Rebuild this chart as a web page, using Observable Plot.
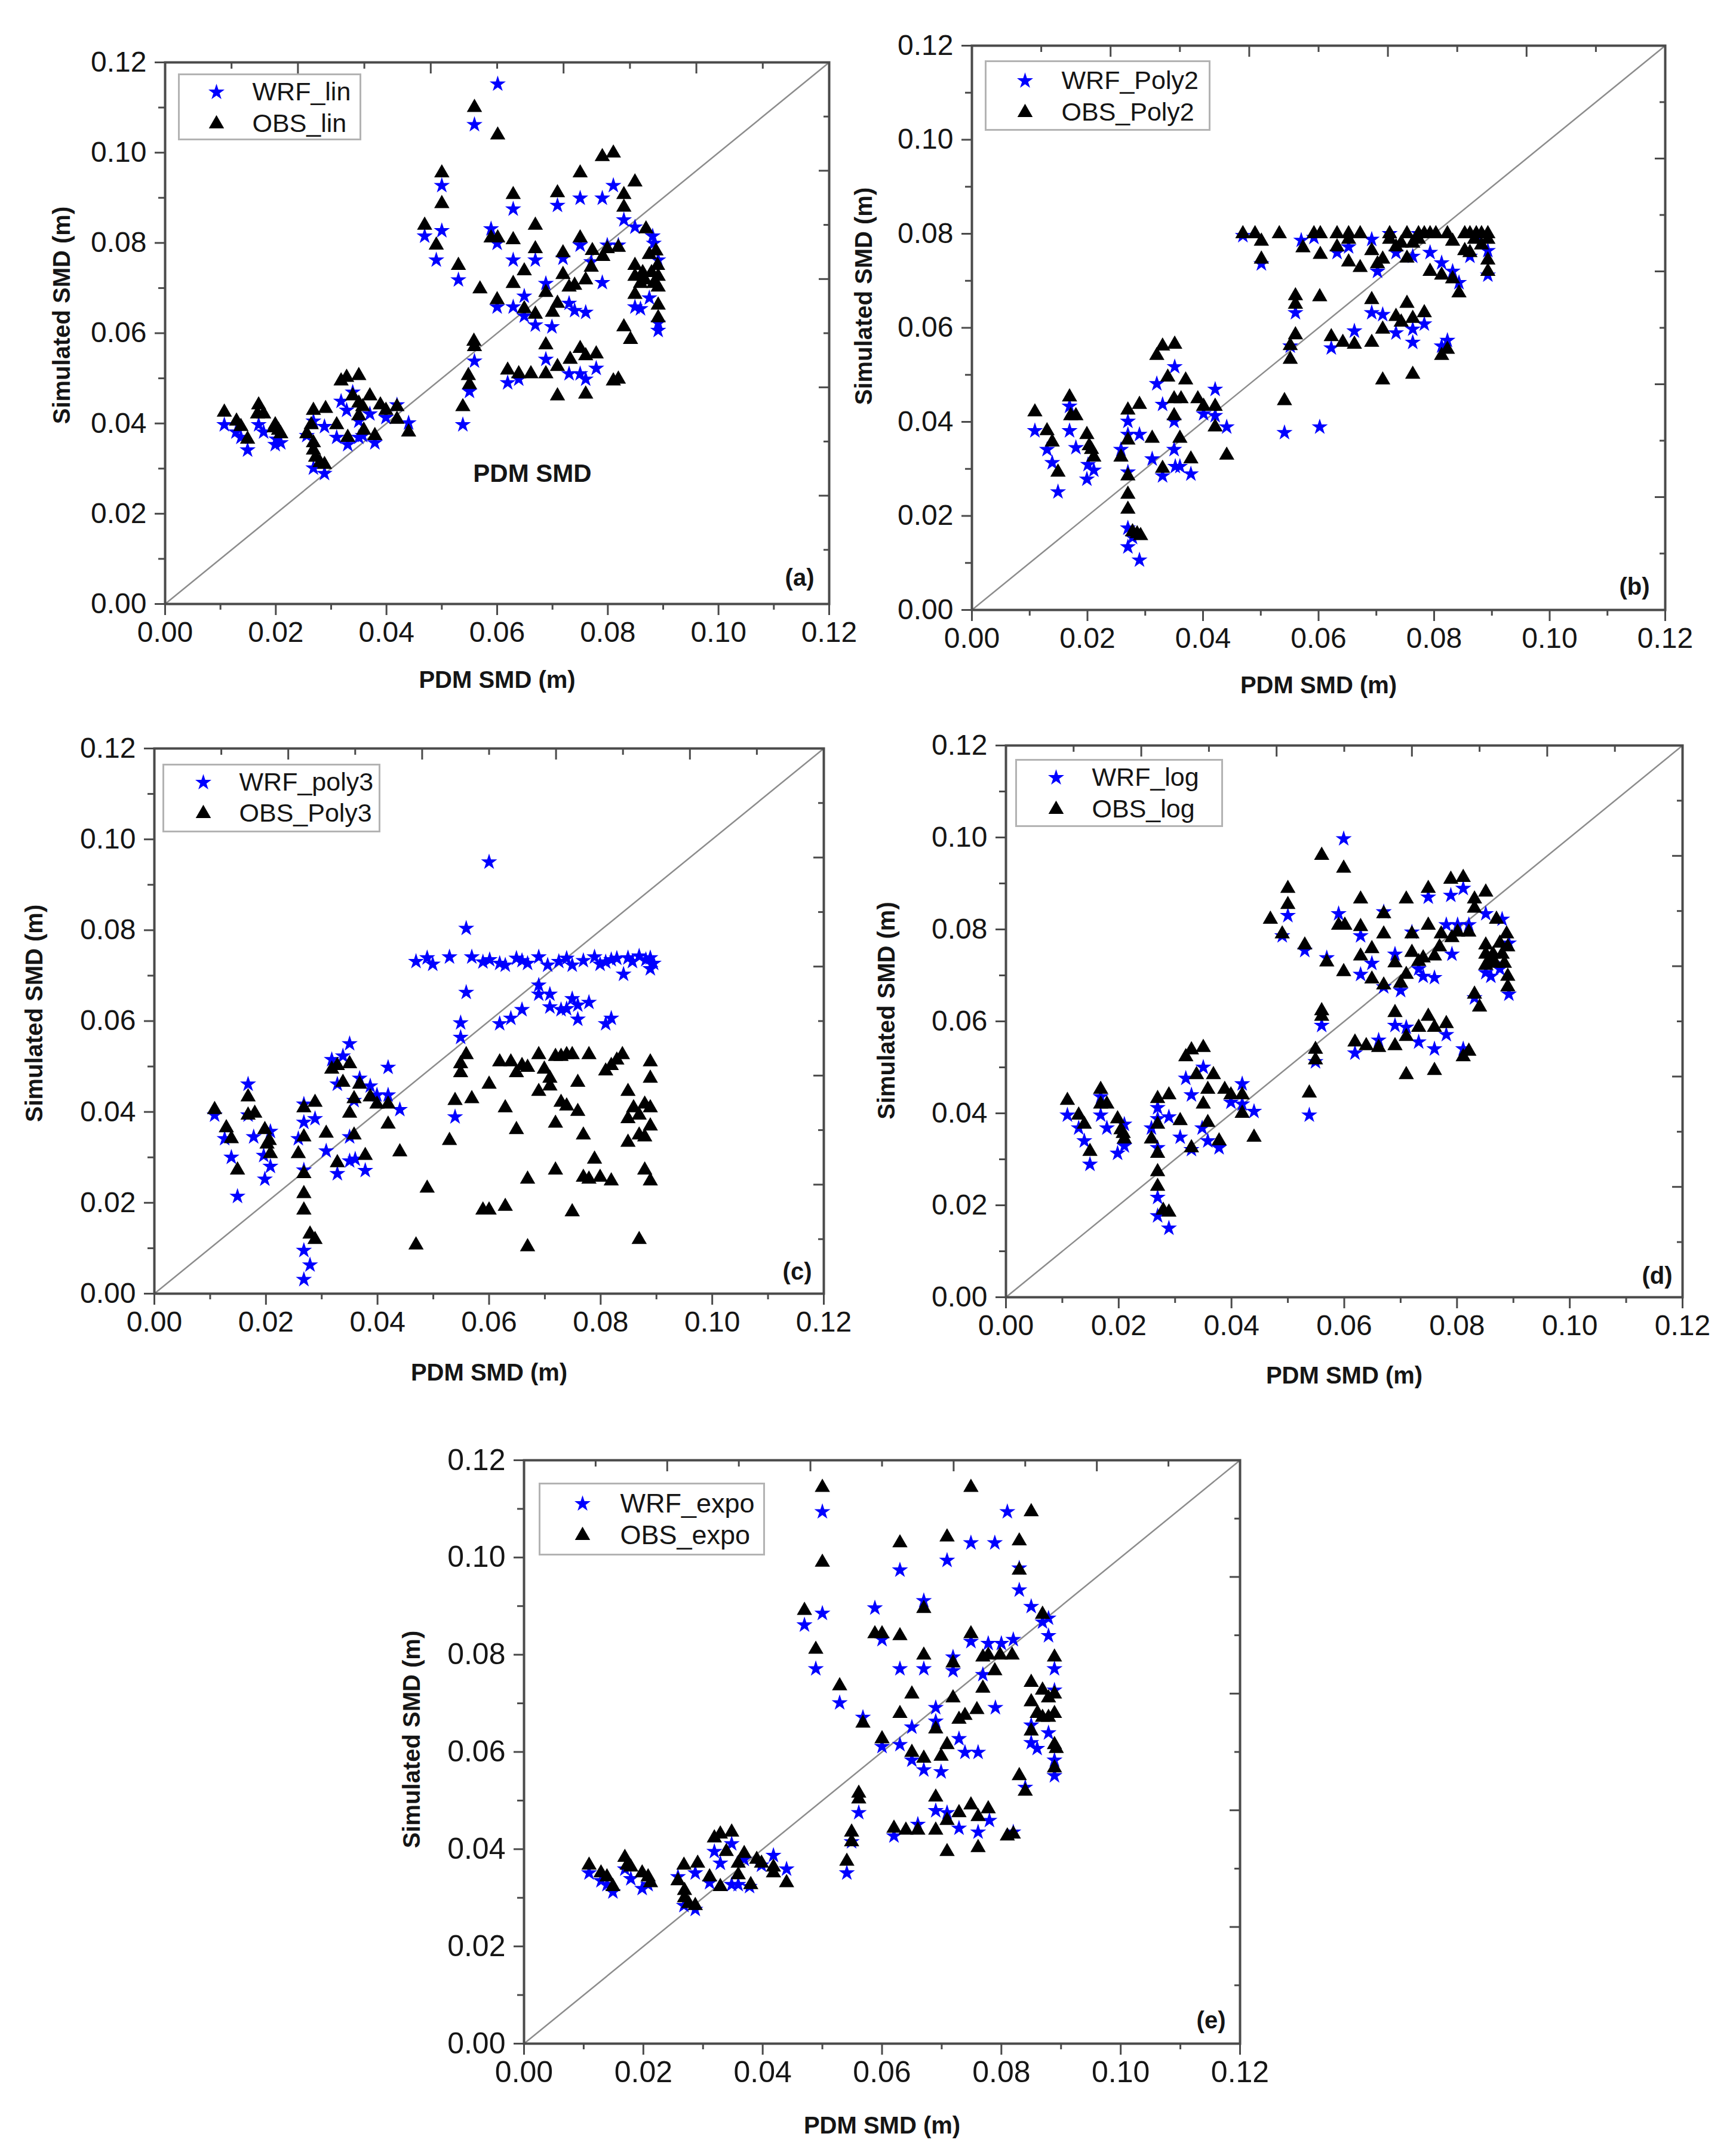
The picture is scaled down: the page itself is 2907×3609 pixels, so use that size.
<!DOCTYPE html>
<html><head><meta charset="utf-8">
<script src="https://cdn.jsdelivr.net/npm/d3@7"></script>
<script src="https://cdn.jsdelivr.net/npm/@observablehq/plot@0.6"></script>
<style>
html,body{margin:0;padding:0;background:#fff;}
#page{position:relative;width:2907px;height:3609px;background:#fff;overflow:hidden;font-family:"Liberation Sans",Arial,sans-serif;}
#page svg{position:absolute;overflow:visible;max-width:none;background:transparent;}
</style></head><body><div id="page"></div>
<script>
// ---------- DATA (x = PDM SMD, y = Simulated SMD, metres) ----------
const wrfLin = [[0.0107,0.0397],[0.0128,0.0381],[0.0137,0.0369],[0.0149,0.0341],[0.0169,0.0397],[0.0178,0.0381],[0.0199,0.0353],[0.0209,0.0357],[0.0201,0.0365],[0.0256,0.0373],[0.0268,0.0405],[0.0268,0.0301],[0.0288,0.0289],[0.0288,0.0393],[0.0318,0.0449],[0.0328,0.0429],[0.0339,0.0469],[0.035,0.0369],[0.0357,0.0373],[0.0379,0.0357],[0.031,0.0369],[0.033,0.0353],[0.0399,0.0413],[0.0419,0.0441],[0.044,0.0401],[0.037,0.0421],[0.035,0.0405],
[0.0538,0.0397],[0.055,0.0471],[0.0559,0.0538],[0.0469,0.0815],[0.049,0.0762],[0.05,0.0927],[0.05,0.0827],[0.053,0.0718],[0.0559,0.1062],[0.0601,0.1152],[0.0589,0.0831],[0.06,0.0799],[0.06,0.0658],[0.0619,0.049],[0.0629,0.0875],[0.0629,0.0762],[0.0629,0.0658],[0.0639,0.0498],[0.0649,0.0682],[0.0649,0.0638],[0.0669,0.0762],[0.0669,0.0618],[0.0688,0.071],[0.0688,0.0542],[0.0699,0.0614],[0.0709,0.0883],[0.0719,0.0766],[0.073,0.0666],[0.073,0.051],[0.074,0.065],[0.075,0.0899],[0.075,0.0795],[0.075,0.051],[0.076,0.0646],[0.076,0.0498],[0.077,0.0758],[0.0779,0.0522],[0.079,0.0899],[0.079,0.0712],[0.0799,0.0795],[0.081,0.0927],[0.0819,0.0795],[0.0829,0.0851],[0.0849,0.0835],[0.0849,0.0658],[0.0859,0.0654],[0.0875,0.0678],[0.0881,0.0815],[0.0891,0.0762],[0.0891,0.0606],[0.0891,0.0622],[0.0883,0.0799]];
const obsLin = [[0.0107,0.0425],[0.0129,0.0405],[0.0137,0.0393],[0.0149,0.0365],[0.0169,0.0441],[0.0167,0.0421],[0.0178,0.0421],[0.0199,0.0397],[0.0205,0.0385],[0.0209,0.0377],[0.0197,0.039],[0.0256,0.0377],[0.0268,0.0429],[0.0264,0.0397],[0.0268,0.0357],[0.0268,0.0341],[0.0272,0.0325],[0.028,0.0313],[0.0288,0.0309],[0.029,0.0433],[0.031,0.0397],[0.0318,0.0494],[0.0328,0.0502],[0.035,0.0506],[0.0339,0.0461],[0.035,0.0445],[0.0357,0.0437],[0.035,0.0417],[0.0359,0.0385],[0.033,0.0369],[0.037,0.0461],[0.0379,0.0373],[0.0389,0.0441],[0.0399,0.0429],[0.0419,0.0437],[0.0419,0.0409],[0.044,0.0381],
[0.0538,0.0437],[0.0548,0.0506],[0.055,0.0486],[0.0558,0.0582],[0.0559,0.057],[0.0469,0.0839],[0.049,0.0795],[0.05,0.0955],[0.05,0.0887],[0.053,0.075],[0.0559,0.11],[0.0601,0.1039],[0.0569,0.0698],[0.0589,0.0811],[0.0601,0.0811],[0.06,0.0674],[0.0619,0.0518],[0.0629,0.0907],[0.0629,0.0807],[0.0629,0.071],[0.0639,0.051],[0.0649,0.0738],[0.0649,0.0654],[0.0661,0.051],[0.0669,0.0839],[0.0669,0.0787],[0.0669,0.0642],[0.0688,0.069],[0.0688,0.0574],[0.0688,0.051],[0.07,0.0646],[0.0709,0.0911],[0.0709,0.0666],[0.0709,0.0526],[0.0709,0.0461],[0.0719,0.0778],[0.0719,0.073],[0.073,0.0702],[0.0732,0.0542],[0.074,0.0706],[0.075,0.0955],[0.075,0.0811],[0.075,0.0566],[0.076,0.0718],[0.076,0.055],[0.076,0.0465],[0.077,0.0746],[0.0772,0.0783],[0.0779,0.0554],[0.079,0.0991],[0.0791,0.077],[0.0799,0.0787],[0.081,0.0999],[0.081,0.0494],[0.0819,0.079],[0.0819,0.0498],[0.0829,0.0907],[0.0829,0.0879],[0.0829,0.0614],[0.0841,0.0586],[0.0849,0.0935],[0.0849,0.075],[0.0849,0.0726],[0.0849,0.0686],[0.0859,0.071],[0.0869,0.0831],[0.0875,0.0774],[0.0879,0.0734],[0.0883,0.071],[0.0887,0.0782],[0.089,0.075],[0.0891,0.0702],[0.0891,0.0662],[0.0891,0.0634],[0.0891,0.0726],[0.0863,0.0734],[0.0867,0.0718]];

const wrfPoly2 = [[0.0109,0.0381],[0.013,0.0341],[0.0139,0.0313],[0.0149,0.0251],[0.0169,0.0433],[0.0169,0.0381],[0.018,0.0345],[0.0199,0.0278],[0.0211,0.0297],[0.0201,0.0309],[0.0258,0.0341],[0.027,0.0401],[0.027,0.0373],[0.027,0.0293],[0.027,0.0174],[0.027,0.0134],[0.0278,0.0154],[0.029,0.0106],[0.029,0.0373],[0.0312,0.0321],[0.032,0.0481],[0.033,0.0437],[0.0351,0.0517],[0.035,0.0401],[0.035,0.0341],[0.036,0.0305],[0.0352,0.0305],[0.033,0.0285],[0.0379,0.0289],[0.0401,0.0417],[0.0421,0.0469],[0.0421,0.0413],[0.0441,0.0389],
[0.0541,0.0377],[0.0602,0.0389],[0.0551,0.0561],[0.056,0.0632],[0.0501,0.0736],[0.0469,0.0796],[0.057,0.0786],[0.0592,0.0792],[0.0632,0.076],[0.0652,0.0772],[0.0692,0.0788],[0.0702,0.072],[0.0734,0.076],[0.0763,0.0752],[0.0793,0.076],[0.0813,0.0738],[0.0832,0.072],[0.0843,0.0696],[0.0862,0.0752],[0.0893,0.0712],[0.0893,0.0764],[0.0622,0.0557],[0.0662,0.0593],[0.0692,0.0632],[0.0711,0.0628],[0.0734,0.0589],[0.0763,0.0597],[0.0763,0.0569],[0.0783,0.0608],[0.0813,0.0561],[0.0823,0.0573],[0.0723,0.08],[0.0773,0.08],[0.0873,0.08]];
const obsPoly2 = [[0.0469,0.08],[0.049,0.08],[0.0532,0.08],[0.0592,0.08],[0.0603,0.08],[0.0632,0.08],[0.0652,0.08],[0.0672,0.08],[0.0723,0.08],[0.0753,0.08],[0.0773,0.08],[0.0783,0.08],[0.0793,0.08],[0.0803,0.08],[0.0823,0.08],[0.0853,0.08],[0.0862,0.08],[0.0873,0.08],[0.0882,0.08],[0.0893,0.08],
[0.0501,0.0784],[0.0501,0.0746],[0.0573,0.077],[0.0603,0.0756],[0.0632,0.0772],[0.0652,0.0788],[0.0652,0.074],[0.0672,0.0728],[0.0692,0.0764],[0.0702,0.0736],[0.0711,0.0746],[0.0723,0.0788],[0.0734,0.0772],[0.0743,0.078],[0.0753,0.0748],[0.0763,0.078],[0.0773,0.0788],[0.0793,0.072],[0.0813,0.0712],[0.0832,0.0784],[0.0832,0.0704],[0.0843,0.0674],[0.0853,0.0764],[0.0862,0.076],[0.0882,0.0776],[0.0893,0.0744],[0.0893,0.072],[0.0893,0.0788],[0.087,0.0788],
[0.056,0.0668],[0.056,0.065],[0.0602,0.0666],[0.056,0.0585],[0.0551,0.0562],[0.0551,0.0533],[0.0541,0.0445],[0.0622,0.0581],[0.0642,0.0569],[0.0662,0.0565],[0.0692,0.066],[0.0692,0.0569],[0.0711,0.0597],[0.0734,0.0624],[0.0743,0.0612],[0.0753,0.0652],[0.0763,0.062],[0.0783,0.0632],[0.0711,0.0489],[0.0763,0.0501],[0.0813,0.0541],[0.0823,0.0554],
[0.0109,0.0421],[0.013,0.0381],[0.0139,0.0357],[0.0149,0.0293],[0.0169,0.0453],[0.0171,0.0413],[0.018,0.0413],[0.0199,0.0373],[0.0203,0.0349],[0.0211,0.0325],[0.0207,0.0341],[0.0258,0.0325],[0.027,0.0425],[0.027,0.0361],[0.027,0.0285],[0.027,0.0246],[0.027,0.0214],[0.0278,0.0166],[0.0286,0.0162],[0.0292,0.0158],[0.029,0.0437],[0.0312,0.0365],[0.032,0.0541],[0.033,0.0561],[0.0351,0.0565],[0.0339,0.0495],[0.035,0.0449],[0.0362,0.0449],[0.035,0.0413],[0.036,0.0365],[0.033,0.0301],[0.037,0.0489],[0.0379,0.0321],[0.0391,0.0449],[0.0401,0.0433],[0.0421,0.0433],[0.0421,0.0389],[0.0441,0.0329]];

const wrfPoly3 = [[0.0469,0.0731],[0.0489,0.0739],[0.0499,0.0725],[0.0529,0.0741],[0.0569,0.0741],[0.0589,0.073],[0.0601,0.0735],[0.0619,0.0727],[0.0629,0.0723],[0.0649,0.0738],[0.0659,0.0733],[0.0669,0.0727],[0.0689,0.0741],[0.0705,0.0723],[0.0725,0.0731],[0.0739,0.0738],[0.0749,0.0723],[0.0769,0.0733],[0.0789,0.0741],[0.0799,0.0725],[0.0809,0.073],[0.0819,0.0735],[0.0829,0.0738],[0.0841,0.0703],[0.0849,0.0739],[0.0857,0.0731],[0.0869,0.0743],[0.0881,0.0735],[0.0889,0.0715],[0.0889,0.0739],[0.0895,0.0727],
[0.06,0.095],[0.0559,0.0804],[0.0559,0.0663],[0.0549,0.0596],[0.0549,0.0564],[0.0539,0.0389],[0.0689,0.0679],[0.0689,0.0659],[0.0709,0.0659],[0.0709,0.0631],[0.0729,0.0625],[0.0739,0.0627],[0.0749,0.0649],[0.0759,0.0635],[0.0759,0.0604],[0.0779,0.0641],[0.0809,0.0594],[0.0819,0.0606],[0.0619,0.0594],[0.0639,0.0606],[0.0659,0.0625],
[0.0108,0.0393],[0.0126,0.0341],[0.0138,0.03],[0.0149,0.0214],[0.0168,0.0461],[0.0168,0.0393],[0.0178,0.0345],[0.0198,0.0252],[0.0208,0.028],[0.0208,0.0357],[0.0196,0.0304],[0.0258,0.0341],[0.0268,0.0417],[0.0268,0.0377],[0.0268,0.0272],[0.0268,0.0095],[0.0279,0.0063],[0.0268,0.0031],[0.0288,0.0385],[0.0308,0.0314],[0.0318,0.0515],[0.0338,0.0523],[0.035,0.055],[0.0328,0.0461],[0.035,0.0345],[0.035,0.0292],[0.036,0.0296],[0.0328,0.0264],[0.0378,0.0271],[0.0368,0.0474],[0.0387,0.0457],[0.0399,0.0437],[0.0419,0.0498],[0.0419,0.0437],[0.044,0.0405],[0.0358,0.0425]];
const obsPoly3 = [[0.0108,0.0405],[0.0129,0.0365],[0.0138,0.0341],[0.0149,0.0272],[0.0168,0.0433],[0.0168,0.0393],[0.018,0.0397],[0.0198,0.0361],[0.0202,0.0329],[0.0208,0.0308],[0.0206,0.0337],[0.0258,0.0308],[0.0268,0.0409],[0.0268,0.0345],[0.0268,0.0264],[0.0268,0.022],[0.0268,0.0184],[0.0279,0.0131],[0.0288,0.0119],[0.0288,0.0421],[0.0308,0.0353],[0.0318,0.0494],[0.0328,0.0502],[0.035,0.0506],[0.0338,0.0465],[0.0358,0.0429],[0.035,0.0397],[0.0358,0.0349],[0.0328,0.0288],[0.0368,0.0461],[0.0378,0.0304],[0.0387,0.0433],[0.0399,0.0417],[0.0419,0.0417],[0.0419,0.0373],[0.044,0.0312],
[0.0469,0.0107],[0.0489,0.0232],[0.0529,0.0337],[0.0539,0.0425],[0.0549,0.0506],[0.0549,0.0486],[0.0559,0.0526],[0.0569,0.0429],[0.0589,0.0184],[0.06,0.0184],[0.06,0.0461],[0.0619,0.051],[0.0629,0.0192],[0.0629,0.0409],[0.0639,0.051],[0.0649,0.0486],[0.0649,0.0361],[0.0659,0.0502],[0.0669,0.0103],[0.0669,0.0252],[0.0669,0.0498],[0.0689,0.0526],[0.0689,0.0445],[0.0699,0.0494],[0.0709,0.0474],[0.0709,0.0457],[0.0719,0.0522],[0.0719,0.0375],[0.0719,0.0272],[0.0729,0.0522],[0.0729,0.0421],[0.0739,0.0413],[0.0739,0.0526],[0.0749,0.0526],[0.0749,0.018],[0.0759,0.0465],[0.0759,0.0401],[0.0769,0.0349],[0.0769,0.0256],[0.0779,0.0526],[0.0779,0.0252],[0.0789,0.0296],[0.0799,0.0256],[0.0809,0.049],[0.0819,0.0248],[0.0819,0.0502],[0.0829,0.0514],[0.0839,0.0526],[0.0849,0.0445],[0.0849,0.0385],[0.0849,0.0333],[0.0859,0.0409],[0.0869,0.0119],[0.0869,0.0349],[0.0879,0.0272],[0.0879,0.0417],[0.0889,0.051],[0.0889,0.0474],[0.0889,0.0409],[0.0889,0.0369],[0.0889,0.0248],[0.0879,0.0345],[0.0869,0.0393]];

const wrfLog = [[0.0109,0.0396],[0.0129,0.0368],[0.0139,0.034],[0.0149,0.0289],[0.0168,0.0436],[0.0168,0.0396],[0.0179,0.0368],[0.0198,0.0313],[0.021,0.0329],[0.021,0.0376],[0.0258,0.0368],[0.0269,0.0412],[0.0269,0.0388],[0.0269,0.0325],[0.0269,0.0217],[0.0269,0.0177],[0.0289,0.015],[0.0289,0.0392],[0.0309,0.0348],[0.0319,0.0476],[0.0329,0.044],[0.035,0.05],[0.0348,0.0368],[0.0358,0.034],[0.0329,0.0321],[0.0378,0.0325],[0.0399,0.0424],[0.0419,0.0464],[0.0419,0.042],[0.044,0.0404],
[0.0538,0.0396],[0.0549,0.0512],[0.056,0.0591],[0.049,0.0786],[0.05,0.083],[0.053,0.0754],[0.0599,0.0997],[0.059,0.0834],[0.0569,0.0738],[0.0619,0.0531],[0.0629,0.0786],[0.0629,0.0702],[0.0649,0.0726],[0.0661,0.0559],[0.067,0.0838],[0.067,0.0675],[0.069,0.0746],[0.069,0.0591],[0.07,0.0667],[0.071,0.0587],[0.072,0.0794],[0.0732,0.0714],[0.0732,0.0555],[0.074,0.0698],[0.0749,0.087],[0.076,0.0695],[0.076,0.054],[0.0781,0.0571],[0.0781,0.081],[0.0789,0.0874],[0.0791,0.0746],[0.0801,0.081],[0.0811,0.0889],[0.0821,0.081],[0.0811,0.054],[0.0831,0.0651],[0.0851,0.0834],[0.0851,0.0706],[0.086,0.0698],[0.088,0.0822],[0.0892,0.077],[0.0892,0.0659],[0.0876,0.0714]];
const obsLog = [[0.0109,0.0428],[0.0129,0.0396],[0.0139,0.0376],[0.0149,0.0317],[0.0168,0.0452],[0.0168,0.042],[0.0179,0.042],[0.0198,0.0388],[0.0204,0.0364],[0.021,0.0344],[0.0208,0.0356],[0.0258,0.0344],[0.0269,0.0432],[0.0269,0.0376],[0.0269,0.0313],[0.0269,0.0273],[0.0269,0.0241],[0.0279,0.0189],[0.0289,0.0185],[0.0289,0.044],[0.0309,0.0384],[0.0319,0.0523],[0.0329,0.0538],[0.035,0.0543],[0.0338,0.0484],[0.0358,0.0452],[0.035,0.042],[0.0358,0.038],[0.0329,0.0325],[0.0368,0.0484],[0.0378,0.034],[0.0388,0.0452],[0.0399,0.044],[0.0419,0.044],[0.0419,0.04],[0.044,0.0348],
[0.0538,0.0444],[0.0549,0.0539],[0.0549,0.0516],[0.056,0.0623],[0.056,0.0611],[0.0469,0.0822],[0.049,0.079],[0.05,0.0889],[0.05,0.0854],[0.053,0.0766],[0.056,0.0961],[0.0599,0.0933],[0.0569,0.0729],[0.059,0.0809],[0.0601,0.0809],[0.0599,0.0708],[0.0619,0.0555],[0.0629,0.0866],[0.0629,0.0806],[0.0629,0.0742],[0.0639,0.0547],[0.0649,0.0758],[0.0649,0.0692],[0.0661,0.0543],[0.067,0.0834],[0.067,0.079],[0.067,0.0679],[0.069,0.0727],[0.069,0.0619],[0.069,0.0547],[0.07,0.0683],[0.071,0.0866],[0.071,0.0702],[0.071,0.0567],[0.071,0.0484],[0.072,0.079],[0.072,0.075],[0.0732,0.073],[0.0732,0.0587],[0.074,0.0738],[0.0749,0.0889],[0.0749,0.0809],[0.0749,0.0611],[0.076,0.0742],[0.076,0.0587],[0.076,0.0493],[0.0769,0.0762],[0.0772,0.079],[0.0781,0.0595],[0.0789,0.0909],[0.0791,0.0782],[0.0801,0.0794],[0.0811,0.0913],[0.0811,0.0523],[0.0821,0.0794],[0.0821,0.0535],[0.0831,0.0866],[0.0831,0.0846],[0.0831,0.0659],[0.084,0.0631],[0.0851,0.0881],[0.0851,0.0766],[0.0851,0.0746],[0.0851,0.0722],[0.086,0.0734],[0.087,0.0822],[0.0876,0.077],[0.088,0.0746],[0.0884,0.0726],[0.0888,0.079],[0.089,0.0762],[0.089,0.0698],[0.089,0.0675],[0.0864,0.0746],[0.0868,0.0726]];

const wrfExpo = [[0.0109,0.0351],[0.0129,0.0335],[0.0139,0.0327],[0.0149,0.0312],[0.0169,0.0359],[0.0179,0.0339],[0.0198,0.0319],[0.0208,0.0327],[0.0258,0.0343],[0.0268,0.0284],[0.0287,0.0276],[0.0287,0.0351],[0.0311,0.0331],[0.0319,0.0395],[0.0329,0.0371],[0.0348,0.0411],[0.0348,0.0327],[0.0359,0.0327],[0.0378,0.0323],[0.0398,0.0367],[0.0418,0.0387],[0.044,0.0359],[0.0369,0.0379],
[0.047,0.0861],[0.0489,0.0771],[0.05,0.1094],[0.05,0.0885],[0.0529,0.0701],[0.0541,0.0351],[0.0549,0.0415],[0.0561,0.0475],[0.0568,0.0671],[0.0588,0.0896],[0.06,0.0831],[0.06,0.0611],[0.062,0.0427],[0.063,0.0974],[0.063,0.0771],[0.063,0.0615],[0.065,0.0651],[0.065,0.0583],[0.066,0.0451],[0.067,0.0911],[0.067,0.0771],[0.067,0.0563],[0.069,0.0691],[0.069,0.0663],[0.069,0.0479],[0.0699,0.0559],[0.0709,0.0994],[0.0709,0.0475],[0.0719,0.0795],[0.0719,0.0767],[0.0729,0.0627],[0.0739,0.0599],[0.0729,0.0443],[0.0749,0.103],[0.0749,0.0827],[0.0761,0.0599],[0.0761,0.0435],[0.0769,0.0759],[0.0778,0.0823],[0.078,0.0459],[0.0789,0.103],[0.079,0.0691],[0.08,0.0823],[0.081,0.1094],[0.082,0.0831],[0.082,0.0435],[0.083,0.0978],[0.083,0.0933],[0.084,0.0527],[0.085,0.0899],[0.085,0.0655],[0.085,0.0619],[0.086,0.0607],[0.0869,0.0867],[0.0879,0.0639],[0.0879,0.0839],[0.0879,0.0875],[0.0889,0.0727],[0.0889,0.0551],[0.0889,0.0771],[0.0889,0.0583]];
const obsExpo = [[0.0109,0.0367],[0.0129,0.0351],[0.0139,0.0343],[0.0149,0.0323],[0.0169,0.0383],[0.0173,0.0367],[0.0179,0.0363],[0.0198,0.0351],[0.0208,0.0343],[0.0212,0.0331],[0.0258,0.0335],[0.0268,0.0367],[0.0269,0.0315],[0.0269,0.03],[0.0276,0.0288],[0.0287,0.0284],[0.0291,0.0371],[0.0311,0.0343],[0.0319,0.0423],[0.0329,0.0431],[0.0348,0.0435],[0.0339,0.0395],[0.0359,0.0371],[0.0369,0.0391],[0.0359,0.0347],[0.0329,0.0323],[0.038,0.0327],[0.039,0.0379],[0.0398,0.0371],[0.0418,0.0363],[0.0418,0.0351],[0.044,0.0331],
[0.047,0.0891],[0.0489,0.0811],[0.05,0.1144],[0.05,0.099],[0.0529,0.0736],[0.0541,0.0375],[0.0549,0.0435],[0.0549,0.0415],[0.0561,0.0515],[0.0561,0.0503],[0.0568,0.0659],[0.0588,0.0843],[0.06,0.0843],[0.06,0.0627],[0.062,0.0443],[0.063,0.103],[0.063,0.0839],[0.063,0.0679],[0.064,0.0439],[0.065,0.0719],[0.065,0.0599],[0.066,0.0439],[0.067,0.0895],[0.067,0.0799],[0.067,0.0587],[0.069,0.0507],[0.069,0.0439],[0.069,0.0647],[0.0699,0.0591],[0.0709,0.1042],[0.0709,0.0615],[0.0709,0.0459],[0.0709,0.0395],[0.0719,0.0783],[0.0719,0.0711],[0.0729,0.0667],[0.0739,0.0675],[0.0729,0.0475],[0.0749,0.1144],[0.0749,0.0843],[0.0749,0.0491],[0.0759,0.0687],[0.0761,0.0467],[0.0761,0.0403],[0.0769,0.0731],[0.0769,0.0795],[0.0778,0.0799],[0.0778,0.0483],[0.0789,0.0767],[0.0798,0.0799],[0.081,0.0427],[0.0818,0.0799],[0.082,0.0431],[0.083,0.1034],[0.083,0.0974],[0.083,0.0551],[0.084,0.0519],[0.085,0.1094],[0.085,0.0743],[0.085,0.0703],[0.085,0.0643],[0.086,0.0679],[0.0869,0.0883],[0.0869,0.0727],[0.0879,0.0711],[0.0879,0.0671],[0.0889,0.0795],[0.0889,0.0719],[0.0889,0.0679],[0.0889,0.0615],[0.0889,0.0567],[0.0892,0.0607],[0.0861,0.0679],[0.0869,0.0671]];

// ---------- ticks and labels ----------
const majorTicks = [0, 0.02, 0.04, 0.06, 0.08, 0.10, 0.12];
const minorTicks = [0.01, 0.03, 0.05, 0.07, 0.09, 0.11];
const frameMajorTicks = [0.024, 0.048, 0.072, 0.096];
const frameMinorTicks = [0.012, 0.036, 0.060, 0.084, 0.108];
const oneToOne = [0, 0.12];
const xTitle = "PDM SMD (m)";
const yTitle = "Simulated SMD (m)";
const panelTags = ["(a)", "(b)", "(c)", "(d)", "(e)"];
const wrfNames = ["WRF_lin", "WRF_Poly2", "WRF_poly3", "WRF_log", "WRF_expo"];
const obsNames = ["OBS_lin", "OBS_Poly2", "OBS_Poly3", "OBS_log", "OBS_expo"];
const innerNote = "PDM SMD";

// ---------- layout (pixels) ----------
const layouts = [
  {frame:[276,104,1388,1011], box:[23,20,304,109], star:[86,50], tri:[86,103], tx:146, tag:[-25,-31], yt:[-172,-30], xt:140, fs:48, lfs:43},
  {frame:[1627,76,2788,1021], box:[23,26,375,115], star:[89,59], tri:[89,112], tx:150, tag:[-26,-26], yt:[-180,-53], xt:139, fs:48, lfs:43},
  {frame:[258,1253,1379,2166], box:[15,27,362,112], star:[82,57], tri:[82,109], tx:142, tag:[-20,-24], yt:[-200,-13], xt:145, fs:48, lfs:43},
  {frame:[1684,1248,2817,2172], box:[17,24,345,111], star:[84,54], tri:[84,107], tx:144, tag:[-17,-23], yt:[-199,-18], xt:144, fs:48, lfs:43},
  {frame:[877,2445,2076,3422], box:[26,39,376,119], star:[98,73], tri:[98,126], tx:161, tag:[-24,-26], yt:[-187,-21], xt:150, fs:50, lfs:45}
];
const series = [[wrfLin, obsLin], [wrfPoly2, obsPoly2], [wrfPoly3, obsPoly3], [wrfLog, obsLog], [wrfExpo, obsExpo]];

const fmt = d3.format(".2f");
const axisColor = "#4a4a4a";
const starR = 8.5, triR = 9.5;
const page = document.getElementById("page");

layouts.forEach((L, i) => {
  const [x0, y0, x1, y1] = L.frame;
  const W = x1 - x0, H = y1 - y0;
  const ML = Math.min(x0, 260), MT = 70, MR = 70, MB = 200;
  const [wrf, obs] = series[i];
  const common = {stroke: axisColor, strokeWidth: 3, label: null};
  const marks = [
    Plot.frame({stroke: "#b3b3b3", strokeWidth: 3, insetLeft: L.box[0], insetTop: L.box[1], insetRight: W - L.box[0] - L.box[2], insetBottom: H - L.box[1] - L.box[3]}),
    Plot.line(oneToOne, {x: d => d, y: d => d, stroke: "#8c8c8c", strokeWidth: 2.5}),
    Plot.dot(wrf, {x: d => d[0], y: d => d[1], symbol: "star", r: starR, fill: "#0000ff"}),
    Plot.dot(obs, {x: d => d[0], y: d => d[1], symbol: "triangle", r: triR, fill: "#000000"}),
    Plot.axisY({anchor: "left", ticks: majorTicks, tickSize: 17, tickPadding: 14, tickFormat: fmt, fontSize: L.fs, fill: "#151515", ...common}),
    Plot.axisY({anchor: "left", ticks: minorTicks, tickSize: 11, fill: "none", ...common}),
    Plot.axisX({anchor: "bottom", ticks: majorTicks, tickSize: 19, tickPadding: 10, tickFormat: fmt, fontSize: L.fs, fill: "#151515", ...common}),
    Plot.axisX({anchor: "bottom", ticks: minorTicks, tickSize: 10, fill: "none", ...common}),
    Plot.axisX({anchor: "top", ticks: frameMajorTicks, tickSize: -18, fill: "none", ...common}),
    Plot.axisX({anchor: "top", ticks: frameMinorTicks, tickSize: -10, fill: "none", ...common}),
    Plot.axisY({anchor: "right", ticks: frameMajorTicks, tickSize: -18, fill: "none", ...common}),
    Plot.axisY({anchor: "right", ticks: frameMinorTicks, tickSize: -10, fill: "none", ...common}),
    Plot.frame({stroke: axisColor, strokeWidth: 4}),
    // legend
    Plot.dot([wrfNames[i]], {frameAnchor: "top-left", dx: L.star[0], dy: L.star[1], symbol: "star", r: starR, fill: "#0000ff"}),
    Plot.dot([obsNames[i]], {frameAnchor: "top-left", dx: L.tri[0], dy: L.tri[1], symbol: "triangle", r: triR, fill: "#000000"}),
    Plot.text([wrfNames[i]], {frameAnchor: "top-left", dx: L.tx, dy: L.star[1], textAnchor: "start", lineAnchor: "middle", fontSize: L.lfs, fill: "#151515"}),
    Plot.text([obsNames[i]], {frameAnchor: "top-left", dx: L.tx, dy: L.tri[1], textAnchor: "start", lineAnchor: "middle", fontSize: L.lfs, fill: "#151515"}),
    // panel tag
    Plot.text([panelTags[i]], {frameAnchor: "bottom-right", dx: L.tag[0], dy: L.tag[1], textAnchor: "end", lineAnchor: "bottom", fontSize: 40, fontWeight: "bold", fill: "#151515"}),
    // axis titles
    Plot.text([yTitle], {frameAnchor: "left", dx: L.yt[0], dy: L.yt[1], rotate: -90, textAnchor: "middle", lineAnchor: "middle", fontSize: 40, fontWeight: "bold", fill: "#151515"}),
    Plot.text([xTitle], {frameAnchor: "bottom", dy: L.xt, textAnchor: "middle", lineAnchor: "bottom", fontSize: 40, fontWeight: "bold", fill: "#151515"})
  ];
  if (i === 0) {
    marks.push(Plot.text([innerNote], {frameAnchor: "top-left", dx: 615, dy: 689, textAnchor: "middle", lineAnchor: "middle", fontSize: 42, fontWeight: "bold", fill: "#151515"}));
  }
  const svg = Plot.plot({
    width: W + ML + MR, height: H + MT + MB,
    marginLeft: ML, marginRight: MR, marginTop: MT, marginBottom: MB,
    x: {domain: [0, 0.12]}, y: {domain: [0, 0.12]},
    style: {fontFamily: '"Liberation Sans", Arial, sans-serif', background: "transparent", overflow: "visible", color: "#151515"},
    marks
  });
  svg.style.left = (x0 - ML) + "px";
  svg.style.top = (y0 - MT) + "px";
  page.appendChild(svg);
});
</script></body></html>
